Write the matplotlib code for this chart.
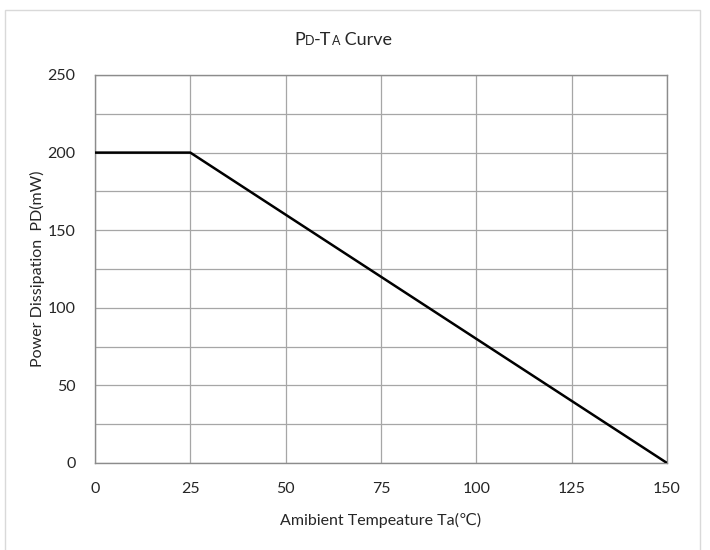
import matplotlib
matplotlib.use('Agg')
import matplotlib.pyplot as plt
from matplotlib.patches import Rectangle
from matplotlib.offsetbox import TextArea, HPacker, AnchoredOffsetbox

plt.rcParams['font.family'] = ['Lato', 'DejaVu Sans']

temps = [0, 25, 150]
power = [200, 200, 0]

x_ticks = [0, 25, 50, 75, 100, 125, 150]
y_ticks = [0, 50, 100, 150, 200, 250]

fig = plt.figure(figsize=(7.1, 5.5), dpi=100)
ax = fig.add_axes([95 / 710, 1 - 463 / 550, (667 - 95) / 710, (463 - 75) / 550])

# outer chart border
fig.patches.append(Rectangle((5 / 710, -0.05), 695 / 710, 1 - 10 / 550 + 0.05,
                             transform=fig.transFigure, fill=False,
                             edgecolor='#d9d9d9', linewidth=1))

ax.plot(temps, power, color='black', linewidth=1.8, solid_capstyle='butt', zorder=3)

ax.set_xlim(0, 150)
ax.set_ylim(0, 250)
ax.set_xticks(x_ticks)
ax.set_yticks(y_ticks)
ax.set_yticks(range(25, 250, 50), minor=True)
ax.grid(True, which='both', color='#a6a6a6', linewidth=0.9)
ax.set_axisbelow(True)
ax.tick_params(which='both', length=0, labelsize=11.5, colors='#262626')
ax.tick_params(axis='x', pad=14)
ax.tick_params(axis='y', pad=14)
for s in ax.spines.values():
    s.set_color('#8c8c8c')
    s.set_linewidth(1)

ax.set_xlabel('Amibient Tempeature Ta(\u2103)', fontsize=11.5, color='#262626', labelpad=12)
ax.set_ylabel('Power Dissipation  PD(mW)', fontsize=11.5, color='#262626')
ax.yaxis.set_label_coords(-0.087, 0.5)

# title with small-caps D and A
parts = [('P', 13), ('D', 9), ('-T', 13), ('A', 9), (' Curve', 13)]
boxes = [TextArea(t, textprops=dict(fontsize=s, color='#262626')) for t, s in parts]
title = HPacker(children=boxes, align='baseline', pad=0, sep=0)
ab = AnchoredOffsetbox(loc='center', child=title, frameon=False,
                       bbox_to_anchor=(343 / 710, 1 - 40 / 550),
                       bbox_transform=fig.transFigure, pad=0, borderpad=0)
fig.add_artist(ab)

fig.savefig('out.png', dpi=100)
